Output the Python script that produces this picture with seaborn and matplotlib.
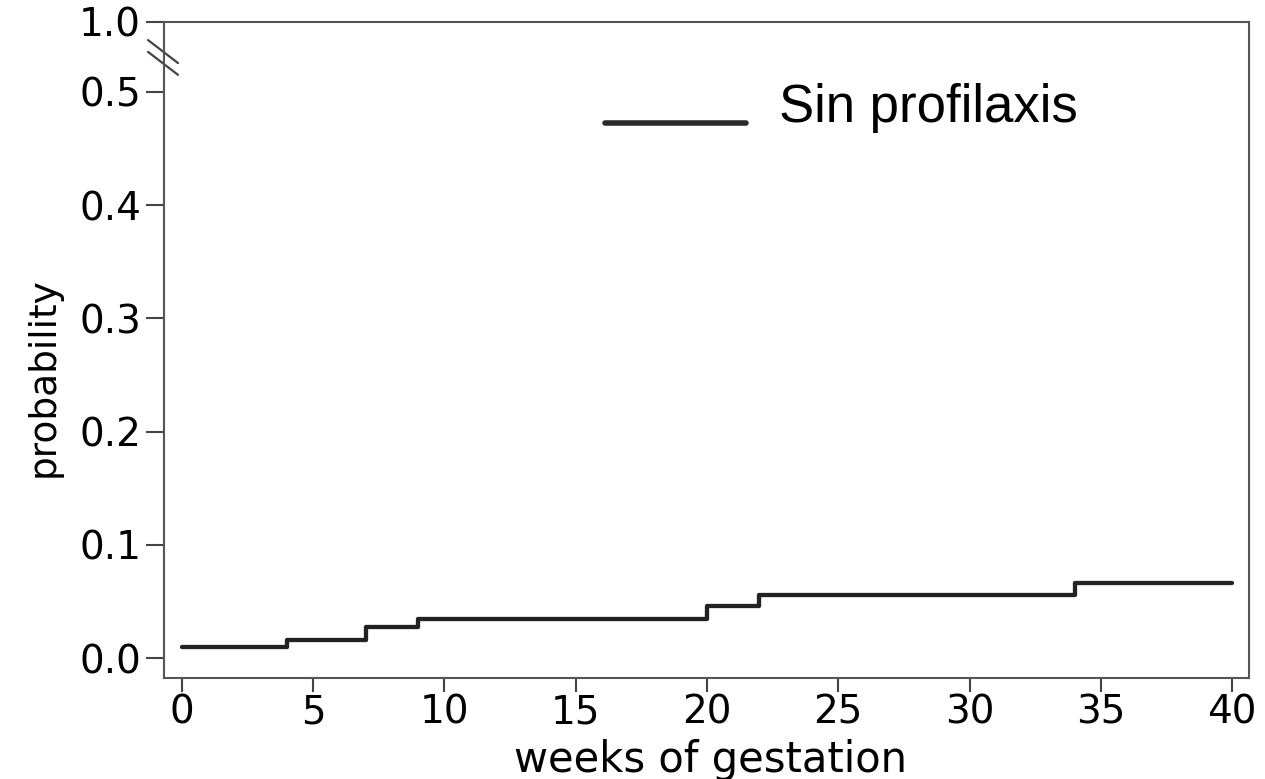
import matplotlib
matplotlib.use("Agg")
import matplotlib.pyplot as plt
import seaborn as sns
import pandas as pd
import numpy as np
from matplotlib.legend_handler import HandlerLine2D
from matplotlib.lines import Line2D

# ---------------- data ----------------
weeks = [0, 4, 7, 9, 20, 22, 34, 40]
probability = [0.010, 0.0165, 0.028, 0.035, 0.0465, 0.056, 0.0665, 0.0665]
series_name = "Sin profilaxis"
x_ticks = [0, 5, 10, 15, 20, 25, 30, 35, 40]
x_tick_labels = ["0", "5", "10", "15", "20", "25", "30", "35", "40"]
y_ticks = [0.0, 0.1, 0.2, 0.3, 0.4, 0.5, 1.0]
y_tick_labels = ["0.0", "0.1", "0.2", "0.3", "0.4", "0.5", "1.0"]
x_label = "weeks of gestation"
y_label = "probability"

# broken axis: values above BREAK_AT are drawn at the top of the axis
BREAK_AT = 0.5
TOP_DISPLAY = 0.5619


def y_display(v):
    return v if v <= BREAK_AT else TOP_DISPLAY


sns.set_theme(style="ticks")
plt.rcParams["font.family"] = ["DejaVu Sans"]
plt.rcParams["text.color"] = "black"

W, H = 1265, 779
fig = plt.figure(figsize=(W / 100, H / 100), dpi=100)
ax_left, ax_right, ax_top, ax_bottom = 164, 1249, 21.7, 678
ax = fig.add_axes([ax_left / W, 1 - ax_bottom / H,
                   (ax_right - ax_left) / W, (ax_bottom - ax_top) / H])

df = pd.DataFrame({"weeks": weeks, "probability": probability})
sns.lineplot(data=df, x="weeks", y="probability", ax=ax,
             drawstyle="steps-post", color="#222222", linewidth=3.1,
             estimator=None, legend=False)

ax.set_xlim(-0.674, 40.64)
ax.set_ylim(-0.0174, TOP_DISPLAY)
ax.set_xticks(x_ticks)
ax.set_xticklabels(x_tick_labels)
ax.set_yticks([y_display(v) for v in y_ticks])
ax.set_yticklabels(y_tick_labels)

for s in ax.spines.values():
    s.set_visible(True)
    s.set_color("#555555")
    s.set_linewidth(1.5)

ax.tick_params(axis="y", direction="out", length=13, width=1.5,
               color="#444444", pad=3.5, labelsize=28, labelcolor="black")
ax.tick_params(axis="x", direction="out", length=10, width=1.5,
               color="#444444", pad=1.5, labelsize=28, labelcolor="black")

ax.set_xlabel(x_label, fontsize=30, va="baseline", color="black")
ax.xaxis.set_label_coords(0.504, -0.1428)
ax.set_ylabel(y_label, fontsize=27, color="black")
ax.yaxis.set_label_coords(-0.094, 0.458)

# axis-break marks
for y0, y1 in [(0.972, 0.937), (0.954, 0.919)]:
    ax.plot([-0.0147, 0.0129], [y0, y1], transform=ax.transAxes,
            clip_on=False, color="#444444", lw=1.6)


class BaselineLineHandler(HandlerLine2D):
    def create_artists(self, legend, orig_handle, xdescent, ydescent,
                       width, height, fontsize, trans):
        artists = super().create_artists(legend, orig_handle, xdescent,
                                         ydescent, width, height,
                                         fontsize, trans)
        for a in artists:
            yd = np.asarray(a.get_ydata(), dtype=float)
            a.set_ydata(np.full_like(yd, -0.5))
        return artists


handle = Line2D([], [], color="#2a2a2a", linewidth=4.0)
leg = ax.legend(handles=[handle], labels=[series_name],
                loc="lower left",
                bbox_to_anchor=(605 / W, 1 - 133 / H),
                bbox_transform=fig.transFigure,
                frameon=False, borderpad=0, borderaxespad=0,
                handlelength=141 / 52.8, handletextpad=33 / 52.8,
                prop={"family": "Liberation Sans", "size": 38},
                labelcolor="black",
                handler_map={Line2D: BaselineLineHandler()})

fig.savefig("out.png", dpi=100)
